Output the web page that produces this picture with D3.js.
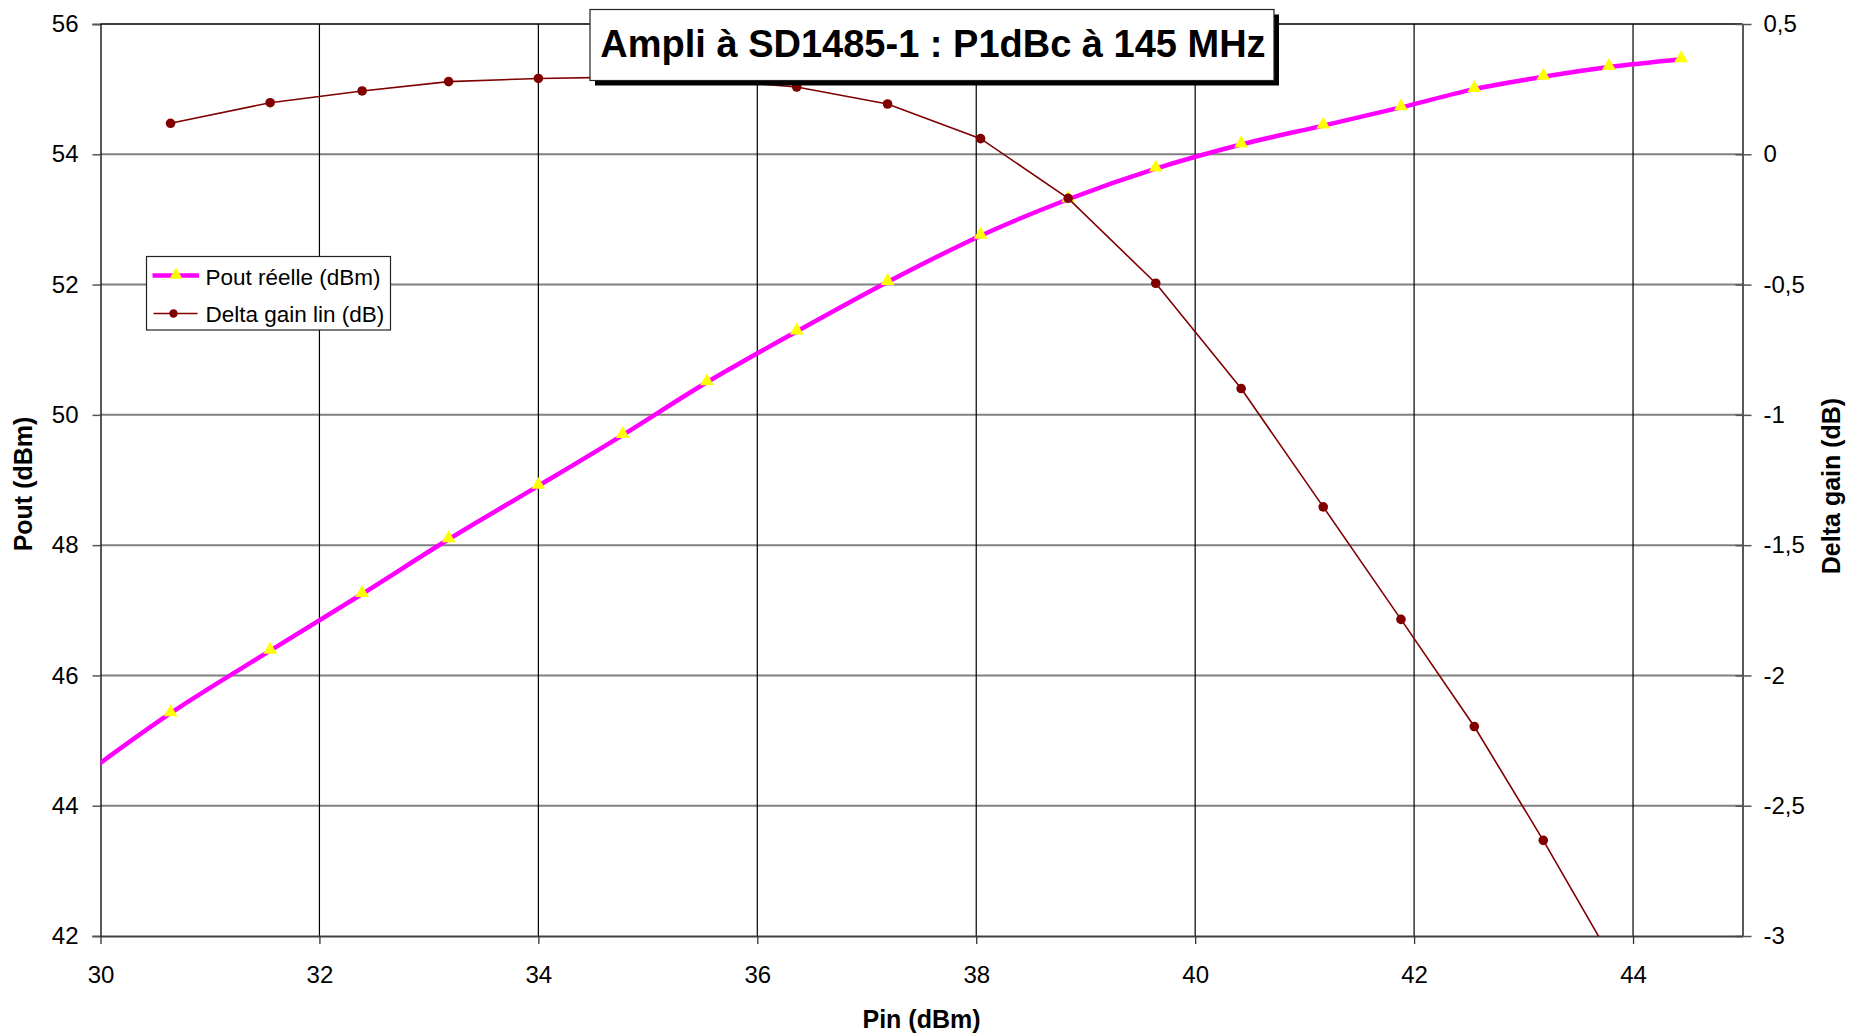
<!DOCTYPE html>
<html>
<head>
<meta charset="utf-8">
<script src="https://cdn.jsdelivr.net/npm/d3@7"></script>
<style>
  html, body { margin: 0; padding: 0; background: #fff; }
  svg { display: block; font-family: "Liberation Sans", Arial, sans-serif; }
</style>
</head>
<body>
<svg id="chart" width="1851" height="1033"></svg>
<script>
// ---- data ----
const titleText = "Ampli à SD1485-1 : P1dBc à 145 MHz";
const xLabel = "Pin (dBm)";
const yLeftLabel = "Pout (dBm)";
const yRightLabel = "Delta gain (dB)";
const seriesNames = ["Pout réelle (dBm)", "Delta gain lin (dB)"];

const pin = [29.76, 30.64, 31.55, 32.39, 33.18, 34.00, 34.77, 35.54, 36.36, 37.19, 38.04,
             38.84, 39.64, 40.42, 41.17, 41.88, 42.55, 43.18, 43.78, 44.44];
const pout = [44.36, 45.42, 46.38, 47.25, 48.09, 48.91, 49.69, 50.50, 51.28, 52.04, 52.75,
              53.31, 53.78, 54.15, 54.44, 54.72, 55.00, 55.19, 55.34, 55.46];
const deltaGain = [null, 0.119, 0.198, 0.243, 0.279, 0.291, 0.296, 0.287, 0.258, 0.193, 0.060,
                   -0.169, -0.495, -0.899, -1.353, -1.785, -2.196, -2.633, -3.07, -3.62];

const xTicks = [30, 32, 34, 36, 38, 40, 42, 44];
const yLeftTicks = [42, 44, 46, 48, 50, 52, 54, 56];
const yRightTicks = [-3, -2.5, -2, -1.5, -1, -0.5, 0, 0.5];

// ---- layout ----
const svg = d3.select("#chart");
const L = 100.5, R = 1742.5, T = 24, B = 936;

const x = d3.scaleLinear().domain([30, 45]).range([L, R]);
const yL = d3.scaleLinear().domain([42, 56]).range([B, T]);
const yR = d3.scaleLinear().domain([-3, 0.5]).range([B, T]);

const loc = d3.formatLocale({decimal: ",", thousands: " ", grouping: [3], currency: ["", ""], minus: "-"});
const fmt = loc.format("~g");

const poutData = pin.map((p, i) => ({x: p, y: pout[i]}));
const dgData = pin.map((p, i) => ({x: p, y: deltaGain[i]})).filter(d => d.y !== null);

svg.append("defs").append("clipPath").attr("id", "plotClip")
  .append("rect").attr("x", L).attr("y", T).attr("width", R - L).attr("height", B - T);

// horizontal gridlines
const g = svg.append("g");
g.selectAll(".hg").data(yLeftTicks.filter(v => v > 42 && v < 56)).enter().append("line")
  .attr("x1", L).attr("x2", R).attr("y1", d => yL(d)).attr("y2", d => yL(d))
  .attr("stroke", "#808080").attr("stroke-width", 2);
// vertical gridlines
g.selectAll(".vg").data(xTicks.filter(v => v > 30)).enter().append("line")
  .attr("x1", d => x(d)).attr("x2", d => x(d)).attr("y1", T).attr("y2", B)
  .attr("stroke", "#000").attr("stroke-width", 1.2);
// top border
g.append("line").attr("x1", L).attr("x2", R).attr("y1", T).attr("y2", T)
  .attr("stroke", "#000").attr("stroke-width", 1.3);

// axes
const axisG = svg.append("g");
// left axis
const leftAxis = axisG.append("g").attr("transform", `translate(${L},0)`)
  .call(d3.axisLeft(yL).tickValues(yLeftTicks).tickSize(8).tickPadding(14).tickFormat(fmt));
leftAxis.select(".domain").attr("stroke", "#000").attr("stroke-width", 1.3);
leftAxis.selectAll(".tick line").attr("stroke", "#555").attr("stroke-width", 1.5);
leftAxis.selectAll("text").attr("font-size", 24).attr("fill", "#000")
  .attr("font-family", "Liberation Sans, Arial, sans-serif");

// right axis
const rightAxis = axisG.append("g").attr("transform", `translate(${R},0)`)
  .call(d3.axisRight(yR).tickValues(yRightTicks).tickSizeInner(9).tickSizeOuter(0).tickPadding(12).tickFormat(fmt));
rightAxis.select(".domain").attr("stroke", "#000").attr("stroke-width", 1.3);
rightAxis.selectAll(".tick line").attr("stroke", "#555").attr("stroke-width", 1.5)
  .attr("x1", -7);
rightAxis.selectAll("text").attr("font-size", 24).attr("fill", "#000")
  .attr("font-family", "Liberation Sans, Arial, sans-serif");

// bottom axis
const bottomAxis = axisG.append("g").attr("transform", `translate(0,${B})`)
  .call(d3.axisBottom(x).tickValues(xTicks).tickSizeInner(8).tickSizeOuter(0).tickPadding(22).tickFormat(fmt));
bottomAxis.select(".domain").attr("stroke", "#404040").attr("stroke-width", 2.2);
bottomAxis.selectAll(".tick line").attr("stroke", "#333").attr("stroke-width", 1.3);
bottomAxis.selectAll("text").attr("font-size", 24).attr("fill", "#000")
  .attr("font-family", "Liberation Sans, Arial, sans-serif");

// axis titles
svg.append("text").attr("x", (L + R) / 2).attr("y", 1028).attr("text-anchor", "middle")
  .attr("font-size", 25).attr("font-weight", "bold").text(xLabel);
svg.append("text").attr("transform", "translate(32,484) rotate(-90)").attr("text-anchor", "middle")
  .attr("font-size", 25).attr("font-weight", "bold").text(yLeftLabel);
svg.append("text").attr("transform", "translate(1839.5,486) rotate(-90)").attr("text-anchor", "middle")
  .attr("font-size", 25).attr("font-weight", "bold").text(yRightLabel);

// series
const plot = svg.append("g").attr("clip-path", "url(#plotClip)");
const poutLine = d3.line().x(d => x(d.x)).y(d => yL(d.y)).curve(d3.curveCatmullRom.alpha(0));
plot.append("path").datum(poutData).attr("d", poutLine)
  .attr("fill", "none").attr("stroke", "#FF00FF").attr("stroke-width", 4.5);
const tri = d3.symbol().type(d3.symbolTriangle).size(82);
plot.selectAll(".tri").data(poutData).enter().append("path")
  .attr("d", tri).attr("transform", d => `translate(${x(d.x)},${yL(d.y) - 1})`)
  .attr("fill", "#FFFF00").attr("stroke", "none");

const dgLine = d3.line().x(d => x(d.x)).y(d => yR(d.y));
plot.append("path").datum(dgData).attr("d", dgLine)
  .attr("fill", "none").attr("stroke", "#800000").attr("stroke-width", 1.6);
plot.selectAll(".dot").data(dgData).enter().append("circle")
  .attr("cx", d => x(d.x)).attr("cy", d => yR(d.y)).attr("r", 4.8)
  .attr("fill", "#800000");

// legend
const leg = svg.append("g");
leg.append("rect").attr("x", 146.5).attr("y", 256.5).attr("width", 244).attr("height", 73.5)
  .attr("fill", "#fff").attr("stroke", "#222").attr("stroke-width", 1.2);
leg.append("line").attr("x1", 152.5).attr("x2", 199).attr("y1", 275.5).attr("y2", 275.5)
  .attr("stroke", "#FF00FF").attr("stroke-width", 4.5);
leg.append("path").attr("d", d3.symbol().type(d3.symbolTriangle).size(72)())
  .attr("transform", "translate(176,275)").attr("fill", "#FFFF00");
leg.append("line").attr("x1", 153.5).attr("x2", 197.5).attr("y1", 313.5).attr("y2", 313.5)
  .attr("stroke", "#800000").attr("stroke-width", 1.6);
leg.append("circle").attr("cx", 173.5).attr("cy", 313.5).attr("r", 4.2).attr("fill", "#800000");
leg.selectAll(".lt").data(seriesNames).enter().append("text")
  .attr("x", 205.5).attr("y", (d, i) => 284.5 + i * 37).attr("font-size", 22.5).attr("fill", "#000")
  .text(d => d);

// title box
const tb = svg.append("g");
tb.append("rect").attr("x", 595).attr("y", 14.5).attr("width", 684).attr("height", 71).attr("fill", "#000");
tb.append("rect").attr("x", 590).attr("y", 9.5).attr("width", 684).attr("height", 71)
  .attr("fill", "#fff").attr("stroke", "#222").attr("stroke-width", 1.2);
tb.append("text").attr("x", 933).attr("y", 56.5).attr("text-anchor", "middle")
  .attr("font-size", 38).attr("font-weight", "bold").attr("fill", "#000").text(titleText);
</script>
</body>
</html>
